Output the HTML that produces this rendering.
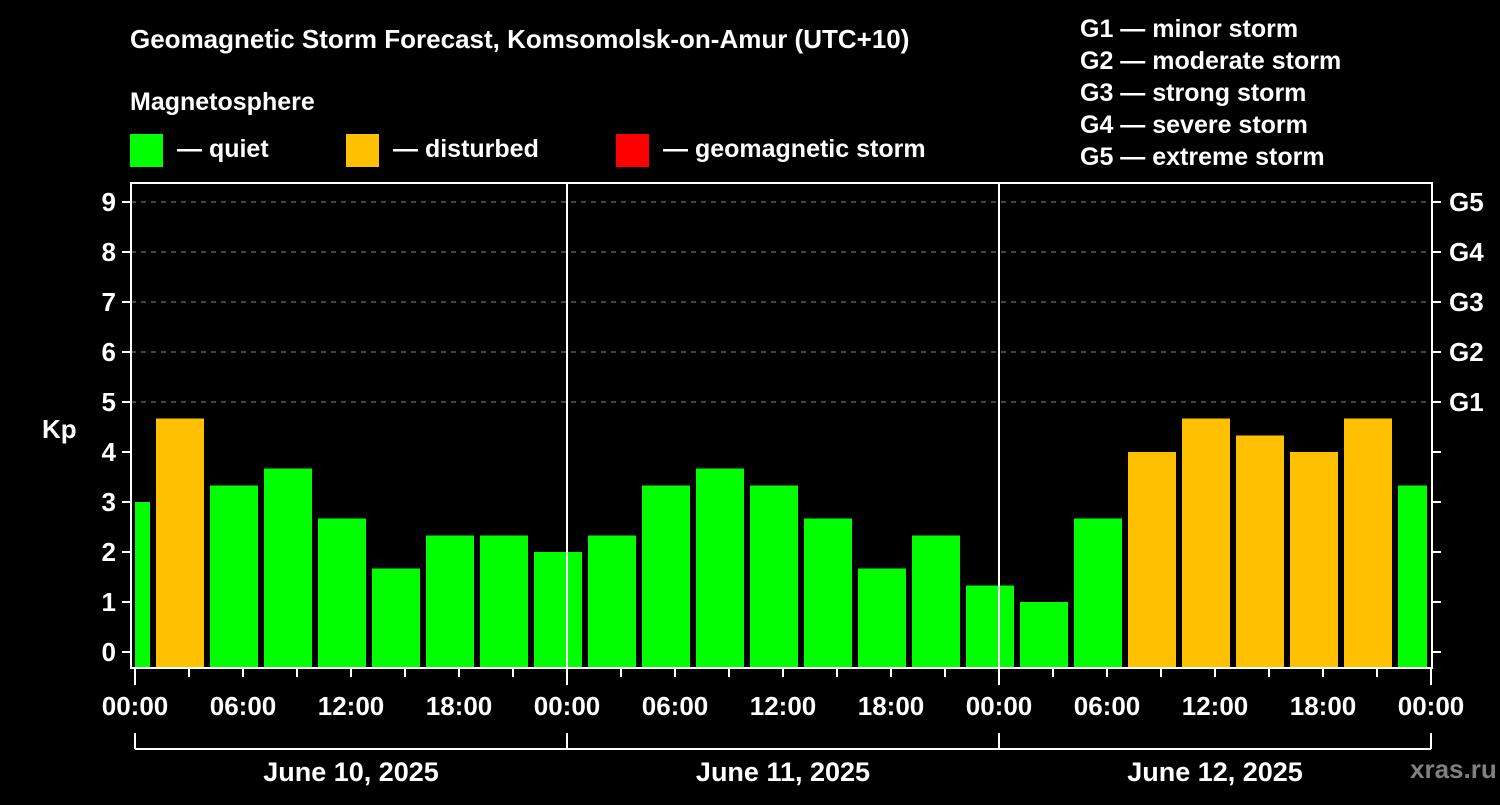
<!DOCTYPE html>
<html><head><meta charset="utf-8"><style>
body{margin:0;background:#000;}
svg text{font-family:"Liberation Sans",sans-serif;font-weight:bold;fill:#fff;}
</style></head><body>
<svg width="1500" height="800" id="chart">
<text x="130" y="48" font-size="26">Geomagnetic Storm Forecast, Komsomolsk-on-Amur (UTC+10)</text>
<text x="130" y="110" font-size="25">Magnetosphere</text>
<rect x="130" y="134" width="33" height="33" fill="#00ff00"/>
<text x="177" y="157" font-size="25">— quiet</text>
<rect x="346" y="134" width="33" height="33" fill="#ffc000"/>
<text x="393" y="157" font-size="25">— disturbed</text>
<rect x="616" y="134" width="33" height="33" fill="#ff0000"/>
<text x="663" y="157" font-size="25">— geomagnetic storm</text>
<g font-size="25">
<text x="1080" y="37">G1 — minor storm</text>
<text x="1080" y="69">G2 — moderate storm</text>
<text x="1080" y="101">G3 — strong storm</text>
<text x="1080" y="133">G4 — severe storm</text>
<text x="1080" y="165">G5 — extreme storm</text>
</g>
<text x="42" y="438" font-size="26">Kp</text>
<text x="1410" y="778" font-size="26" fill="#808080" style="fill:#808080">xras.ru</text>
<g id="grid"></g><g id="bars"></g><g id="axes"></g>
</svg>
<script>
const values=[3.0,4.67,3.33,3.67,2.67,1.67,2.33,2.33,2.0,2.33,3.33,3.67,3.33,2.67,1.67,2.33,1.33,1.0,2.67,4.0,4.67,4.33,4.0,4.67,3.33];
const yTicks=[0,1,2,3,4,5,6,7,8,9];
const gLabels=["G1","G2","G3","G4","G5"];
const xLabels=["00:00","06:00","12:00","18:00","00:00","06:00","12:00","18:00","00:00","06:00","12:00","18:00","00:00"];
const days=["June 10, 2025","June 11, 2025","June 12, 2025"];
const NS="http://www.w3.org/2000/svg";
const X0=135,PX_H=18,FL=131,FR=1432,FT=183,FB=668;
const xs=h=>X0+h*PX_H, ys=v=>652-v*50;
function mk(t,a,p,txt){const e=document.createElementNS(NS,t);for(const k in a)e.setAttribute(k,a[k]);if(txt!==undefined)e.textContent=txt;p.appendChild(e);return e;}
const grid=document.getElementById('grid'),bars=document.getElementById('bars'),axes=document.getElementById('axes');
yTicks.forEach(v=>{if(v>=5){const l=mk('line',{x1:FL,x2:FR,y1:ys(v),y2:ys(v),stroke:'#888','stroke-dasharray':'5,5','stroke-width':1},grid);}
 const t=mk('line',{x1:122,x2:FL,y1:ys(v),y2:ys(v),stroke:'#fff','stroke-width':2},axes);
 const t2=mk('line',{x1:FR,x2:1441,y1:ys(v),y2:ys(v),stroke:'#fff','stroke-width':2},axes);
 const tx=mk('text',{x:116,y:ys(v)+9,'font-size':26,'text-anchor':'end'},axes,String(v));});
gLabels.forEach((g,i)=>{const t=mk('text',{x:1449,y:ys(5+i)+9,'font-size':26},axes,g);});
values.forEach((v,i)=>{let s=-2+3*i,e=s+3;s=Math.max(s,0);e=Math.min(e,72);
 let x1=xs(s)+(i==0?0:3),x2=xs(e)-(i==values.length-1?4:3);
 const r=mk('rect',{x:x1,y:ys(v),width:x2-x1,height:FB-ys(v),fill:v>=5?'#ff0000':(v>=4?'#ffc000':'#00ff00')},bars);
 });
[1,2].forEach(d=>mk('line',{x1:xs(24*d),x2:xs(24*d),y1:FT,y2:FB,stroke:'#fff','stroke-width':2},axes));
const fr=mk('rect',{x:FL,y:FT,width:FR-FL,height:FB-FT,fill:'none',stroke:'#fff','stroke-width':2},axes);

for(let h=0;h<=72;h+=3)mk('line',{x1:xs(h),x2:xs(h),y1:FB,y2:FB+(h%24==0?17:9),stroke:'#fff','stroke-width':2},axes);
xLabels.forEach((l,i)=>{const t=mk('text',{x:xs(i*6),y:715,'font-size':26,'text-anchor':'middle'},axes,l);});
mk('line',{x1:xs(0),x2:xs(72),y1:749,y2:749,stroke:'#fff','stroke-width':2},axes);
for(let d=0;d<=3;d++)mk('line',{x1:xs(24*d),x2:xs(24*d),y1:733,y2:749,stroke:'#fff','stroke-width':2},axes);
days.forEach((d,i)=>{const t=mk('text',{x:xs(24*i+12),y:781,'font-size':27,'text-anchor':'middle'},axes,d);});
</script>
</body></html>
